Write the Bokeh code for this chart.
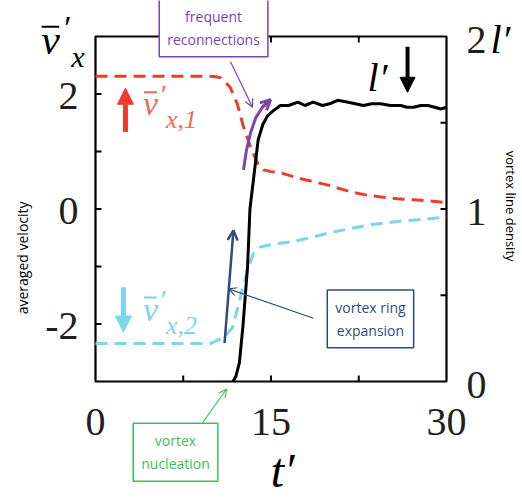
import math
from bokeh.plotting import figure
from bokeh.models import Range1d, Label, Arrow, NormalHead, OpenHead
from bokeh.embed import file_html
from bokeh.resources import INLINE

# ---- data ----
t_v1 = [0, 9.8, 10.3, 10.7, 11.5, 12.1, 12.65, 13.25, 13.85, 14.36, 15.0, 15.8, 17.3, 18.5,
        19.8, 21.8, 23.0, 24.4, 25.8, 27.2, 28.5, 30]
v1 = [2.31, 2.31, 2.30, 2.28, 2.12, 1.84, 1.43, 1.08, 0.80, 0.68, 0.65, 0.63, 0.54, 0.48,
      0.42, 0.30, 0.25, 0.21, 0.18, 0.16, 0.14, 0.11]

t_v2 = [0, 9.8, 10.9, 11.7, 12.1, 12.6, 13.0, 13.5, 14.1, 15.5, 16.7, 17.5, 20.3, 23.3,
        26.1, 28.0, 30]
v2 = [-2.34, -2.34, -2.24, -2.07, -1.76, -1.36, -1.06, -0.77, -0.66, -0.60, -0.57, -0.54,
      -0.40, -0.28, -0.21, -0.18, -0.14]

t_l = [11.75, 12.0, 12.3, 12.6, 13.0, 13.2, 13.5, 13.9, 14.3, 14.7, 15.2, 15.8, 16.5, 17.3,
       17.9, 18.6, 19.4, 20.0, 20.7, 21.5, 22.2, 22.9, 23.6, 24.4, 25.2, 26.1, 26.6, 27.2,
       27.8, 28.4, 29.0, 29.5, 30.0]
l_vals = [0.0, 0.03, 0.11, 0.32, 0.67, 1.00, 1.17, 1.40, 1.49, 1.54, 1.57, 1.60, 1.60, 1.62,
          1.60, 1.62, 1.60, 1.61, 1.63, 1.62, 1.61, 1.60, 1.61, 1.61, 1.60, 1.60, 1.59, 1.59,
          1.60, 1.60, 1.59, 1.58, 1.59]

x_ticks = [7.5, 15, 22.5]
x_labels = ["0", "15", "30"]
x_label_pos = [0, 15, 30]
v_ticks = [-2, -1, 0, 1, 2]
v_labels = ["-2", "0", "2"]
v_label_pos = [-2, 0, 2]
l_ticks = [0.5, 1, 1.5]
l_labels = ["0", "1", "2"]
l_label_pos = [0, 1, 2]

RED = "#ef3b2c"
RED_TXT = "#f26a5c"
CYAN = "#7dd5ec"
PURPLE = "#7a45ad"
NAVY = "#2e4c82"
GREEN = "#3cbf5c"
SERIF = "Liberation Serif"
SANS = "Open Sans"
DIGIT = "#231f20"

# axis box limits
T0, T1 = 0, 30
V0, V1 = -3, 3
L0, L1 = 0, 2

# canvas layout (px) around the axis box
W, H = 522, 500
LEFT, RIGHT, TOP, BOTTOM = 95, 76, 36, 119
FW, FH = W - LEFT - RIGHT, H - TOP - BOTTOM
tpp = (T1 - T0) / FW
vpp = (V1 - V0) / FH
lpp = (L1 - L0) / FH

p = figure(width=W, height=H,
           x_range=Range1d(T0 - LEFT * tpp, T1 + RIGHT * tpp),
           y_range=Range1d(V0 - BOTTOM * vpp, V1 + TOP * vpp),
           x_axis_type=None, y_axis_type=None,
           output_backend="svg", toolbar_location=None, min_border=0)
p.extra_y_ranges = {"l": Range1d(L0 - BOTTOM * lpp, L1 + TOP * lpp)}
p.xgrid.grid_line_color = None
p.ygrid.grid_line_color = None
p.outline_line_color = None
p.background_fill_color = "white"
p.border_fill_color = "white"

# ---- axis box, ticks and tick labels ----
p.quad(left=[T0], right=[T1], bottom=[V0], top=[V1], fill_color=None,
       line_color="black", line_width=2.2)
TL = 6
p.ray(x=[T0] * len(v_ticks), y=v_ticks, length=TL, angle=0, length_units="screen",
      line_color="black", line_width=2)
p.ray(x=[T1] * len(l_ticks), y=l_ticks, length=TL, angle=math.pi, length_units="screen",
      line_color="black", line_width=2, y_range_name="l")
p.ray(x=x_ticks, y=[V0] * len(x_ticks), length=TL, angle=math.pi / 2, length_units="screen",
      line_color="black", line_width=2)
p.ray(x=x_ticks, y=[V1] * len(x_ticks), length=TL, angle=-math.pi / 2, length_units="screen",
      line_color="black", line_width=2)

p.text(x=[T0] * 3, y=v_label_pos, text=v_labels, text_align="right", text_baseline="middle",
       x_offset=-17, y_offset=2, text_font="Liberation Serif", text_font_size="40px",
       text_color=DIGIT)
p.text(x=[T1] * 3, y=l_label_pos, text=l_labels, text_align="left", text_baseline="middle",
       x_offset=20, y_offset=3, text_font="Liberation Serif", text_font_size="40px",
       text_color=DIGIT, y_range_name="l")
p.text(x=x_label_pos, y=[V0] * 3, text=x_labels, text_align="center", text_baseline="middle",
       y_offset=40, text_font="Liberation Serif", text_font_size="40px", text_color=DIGIT)

# ---- curves ----
p.line(t_v1, v1, color=RED, line_width=3, line_dash="12 7")
p.line(t_v2, v2, color=CYAN, line_width=3, line_dash="12 7")
p.line(t_l, l_vals, y_range_name="l", color="black", line_width=3)


# ---- annotations ----
def lab(x, y, text, size, color="black", font=SERIF, style="normal", angle=0, **kw):
    p.add_layout(Label(x=x, y=y, text=text, text_align="center", text_baseline="middle",
                       text_font=font, text_font_size=size, text_color=color,
                       text_font_style=style, angle=angle, **kw))


def arrow(x0, y0, x1, y1, color, w, head):
    p.add_layout(Arrow(x_start=x0, y_start=y0, x_end=x1, y_end=y1, end=head,
                       line_color=color, line_width=w))


def bar(x0, x1, y, color, w=2):
    arrow(x0, y, x1, y, color, w, None)


# top-left axis symbol
lab(-3.85, 2.94, "v", "42px", style="italic")
bar(-4.6, -3.1, 3.17, "black", 2)
lab(-2.35, 3.15, "\u2032", "34px")
lab(-1.5, 2.66, "x", "30px", style="italic")

# right axis symbol l'
lab(34.6, 2.94, "l\u2032", "40px", style="italic")

# t' label
lab(16.0, -4.54, "t\u2032", "48px", style="italic")

# axis side texts
lab(-6.24, -0.85, "averaged velocity", "14px", font=SANS, angle=math.pi / 2)
lab(35.5, 0.05, "vortex line density", "13px", font=SANS, angle=-math.pi / 2)

# red label and arrow
lab(4.70, 1.83, "v", "34px", RED_TXT, style="italic")
bar(4.15, 5.25, 2.03, RED_TXT, 2)
lab(5.85, 2.00, "\u2032", "28px", RED_TXT)
lab(7.35, 1.55, "x,1", "26px", RED_TXT, style="italic")
arrow(2.56, 1.34, 2.56, 2.10, RED, 5,
      NormalHead(size=16, fill_color=RED, line_color=RED))

# cyan label and arrow
lab(4.70, -1.74, "v", "34px", CYAN, style="italic")
bar(4.15, 5.25, -1.54, CYAN, 2)
lab(5.85, -1.57, "\u2032", "28px", CYAN)
lab(7.35, -2.02, "x,2", "26px", CYAN, style="italic")
arrow(2.39, -1.36, 2.39, -2.14, CYAN, 5,
      NormalHead(size=16, fill_color=CYAN, line_color=CYAN))

# l' with black arrow
lab(24.1, 2.28, "l\u2032", "40px", style="italic")
arrow(26.67, 2.82, 26.67, 2.03, "black", 4,
      NormalHead(size=15, fill_color="black", line_color="black"))

# frequent reconnections
purple_t = [12.65, 12.91, 13.25, 13.68, 14.27, 14.96]
purple_v = [0.68, 1.03, 1.32, 1.58, 1.77, 1.90]
p.line(purple_t, purple_v, color=PURPLE, line_width=3)
arrow(14.27, 1.77, 14.96, 1.90, PURPLE, 3, OpenHead(size=10, line_color=PURPLE, line_width=3))
arrow(11.54, 2.56, 13.42, 1.77, PURPLE, 1.2, OpenHead(size=8, line_color=PURPLE, line_width=1.2))
lab(10.09, 3.15, "frequent\nreconnections", "14px", PURPLE, font=SANS,
    background_fill_color="white", border_line_color=PURPLE, border_line_width=1.5, padding=8)

# vortex ring expansion
arrow(11.03, -2.33, 11.79, -0.37, NAVY, 2.5, OpenHead(size=10, line_color=NAVY, line_width=2.5))
arrow(18.63, -1.90, 11.37, -1.39, NAVY, 1.2, OpenHead(size=8, line_color=NAVY, line_width=1.2))
lab(23.5, -1.91, "vortex ring\nexpansion", "14px", NAVY, font=SANS,
    background_fill_color="white", border_line_color=NAVY, border_line_width=1.5, padding=8)

# vortex nucleation
arrow(8.97, -3.77, 11.2, -3.13, GREEN, 1.2, OpenHead(size=8, line_color=GREEN, line_width=1.2))
lab(6.84, -4.23, "vortex\nnucleation", "14px", GREEN, font=SANS,
    background_fill_color="white", border_line_color=GREEN, border_line_width=1.5, padding=8)

open("out.html", "w").write(file_html(p, INLINE))
